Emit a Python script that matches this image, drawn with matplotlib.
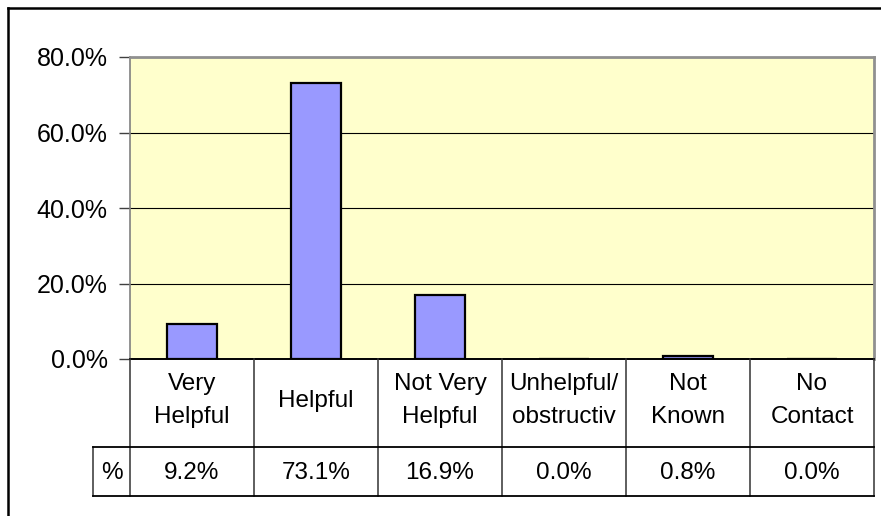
import numpy as np
import matplotlib.pyplot as plt
from matplotlib.lines import Line2D
from matplotlib.ticker import FuncFormatter

plt.rcParams['font.family'] = ['Liberation Sans', 'DejaVu Sans']

categorias = ['Very\nHelpful', 'Helpful', 'Not Very\nHelpful', 'Unhelpful/\nobstructiv',
              'Not\nKnown', 'No\nContact']
valores = [0.092, 0.731, 0.169, 0.0, 0.008, 0.0]
rotulo_serie = '%'
yticks = [0.0, 0.2, 0.4, 0.6, 0.8]

W, H = 881, 516
fig = plt.figure(figsize=(W / 100, H / 100), dpi=100)
fig.patch.set_facecolor('white')

# área do gráfico em pixels
x0, x1, y_top, y_zero = 130, 874, 57, 359
ax = fig.add_axes([x0 / W, 1 - y_zero / H, (x1 - x0) / W, (y_zero - y_top) / H])
ax.set_facecolor('#FFFFCC')

x = np.arange(len(categorias))
ax.bar(x, valores, width=0.4, color='#9999FF', edgecolor='black', linewidth=1.6, zorder=3)
ax.set_xlim(-0.5, len(categorias) - 0.5)
ax.set_ylim(0, 0.8)
ax.set_yticks(yticks)
ax.yaxis.set_major_formatter(FuncFormatter(lambda v, p: f'{v * 100:.1f}%'))
ax.set_xticks([])
ax.grid(axis='y', color='black', linewidth=0.8, zorder=1)
ax.tick_params(axis='y', length=8, width=1, color='#404040', labelsize=18, pad=8)

for lado in ['top', 'right']:
    ax.spines[lado].set_color('#909090')
    ax.spines[lado].set_linewidth(2)
ax.spines['left'].set_color('#808080')
ax.spines['left'].set_linewidth(1.2)
ax.spines['bottom'].set_color('black')
ax.spines['bottom'].set_linewidth(1.4)
ax.spines['bottom'].set_zorder(4)

# tabela de dados abaixo do eixo
def fx(px):
    return px / W

def fy(py):
    return 1 - py / H

y_cat_bot, y_val_bot = 447, 496
x_leg = 93
cor_linha = '#333333'
bordas = ax.transData.transform(np.column_stack([np.arange(len(categorias) + 1) - 0.5,
                                                  np.zeros(len(categorias) + 1)]))[:, 0]
for bx in bordas:
    fig.add_artist(Line2D([bx / W, bx / W], [fy(y_zero), fy(y_val_bot)],
                          color=cor_linha, linewidth=1.1))
fig.add_artist(Line2D([fx(x_leg), fx(x_leg)], [fy(y_cat_bot), fy(y_val_bot)],
                      color=cor_linha, linewidth=1.1))
for yy in [y_cat_bot, y_val_bot]:
    fig.add_artist(Line2D([fx(x_leg), bordas[-1] / W], [fy(yy), fy(yy)],
                          color='black', linewidth=1.3))

for i, (cat, val) in enumerate(zip(categorias, valores)):
    cx = (bordas[i] + bordas[i + 1]) / 2 / W
    fig.text(cx, fy((y_zero + y_cat_bot) / 2 - 2.5), cat, ha='center', va='center',
             fontsize=17.5, linespacing=1.68)
    fig.text(cx, fy((y_cat_bot + y_val_bot) / 2 + 1.5), f'{val * 100:.1f}%',
             ha='center', va='center', fontsize=17.5)
fig.text(fx((x_leg + x0) / 2), fy((y_cat_bot + y_val_bot) / 2 + 1.5), rotulo_serie,
         ha='center', va='center', fontsize=17.5)

# moldura externa do gráfico
fig.add_artist(Line2D([fx(8), fx(8)], [0, fy(8)], color='black', linewidth=1.8))
fig.add_artist(Line2D([fx(8), 1], [fy(8), fy(8)], color='black', linewidth=1.8))

fig.savefig('out.png', dpi=100)
